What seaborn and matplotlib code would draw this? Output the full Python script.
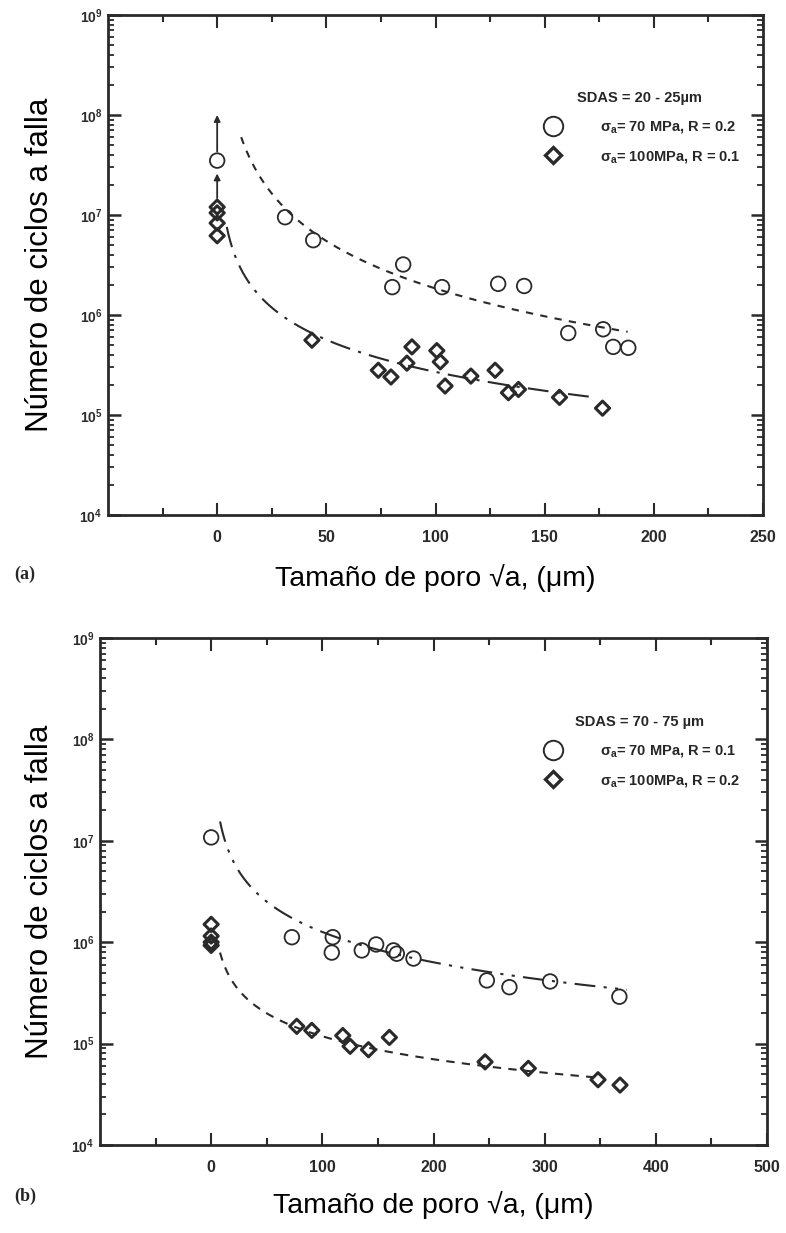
import numpy as np
import pandas as pd
import matplotlib
matplotlib.use("Agg")
import matplotlib.pyplot as plt
import seaborn as sns
from matplotlib.ticker import FixedLocator, LogLocator, FuncFormatter, NullFormatter
from matplotlib.lines import Line2D

# ---------------- data ----------------
# panel (a)  SDAS = 20 - 25 um
a_circ_x = [0, 31.1, 44.0, 80.2, 85.2, 103.0, 128.7, 140.6, 160.8, 176.8, 181.4, 188.3]
a_circ_N = [3.5e7, 9.5e6, 5.6e6, 1.9e6, 3.2e6, 1.9e6, 2.05e6, 1.95e6, 6.6e5, 7.2e5, 4.8e5, 4.7e5]
a_diam_x = [0, 0, 0, 0, 43.4, 73.8, 79.6, 86.9, 89.2, 100.6, 102.2, 104.4, 116.2, 127.3,
            133.4, 138.0, 156.8, 176.5]
a_diam_N = [1.2e7, 1.05e7, 8.3e6, 6.2e6, 5.6e5, 2.8e5, 2.4e5, 3.3e5, 4.8e5, 4.4e5, 3.4e5,
            1.95e5, 2.45e5, 2.8e5, 1.67e5, 1.8e5, 1.5e5, 1.17e5]
# fitted power-law curves: (x_start, N_start) -> (x_end, N_end)
a_fit_circ_x = [11, 188]
a_fit_circ_N = [6.0e7, 6.8e5]
a_fit_diam_x = [4.4, 173]
a_fit_diam_N = [7.6e6, 1.5e5]
# run-out arrows (x, from N, to N)
a_arrow_x = [0, 0]
a_arrow_from = [3.5e7, 1.2e7]
a_arrow_to = [1.0e8, 2.6e7]

# panel (b)  SDAS = 70 - 75 um
b_circ_x = [0, 72.6, 109.4, 108.5, 135.5, 148.4, 164.0, 167.0, 182.0, 248.0, 268.3, 304.9, 367.2]
b_circ_N = [1.08e7, 1.12e6, 1.12e6, 7.9e5, 8.3e5, 9.5e5, 8.3e5, 7.7e5, 6.9e5, 4.2e5, 3.6e5, 4.1e5, 2.9e5]
b_diam_x = [0, 0, 0, 0, 77.0, 90.5, 118.4, 125.0, 141.5, 160.3, 246.4, 285.3, 348.0, 367.8]
b_diam_N = [1.5e6, 1.15e6, 1.0e6, 9.3e5, 1.48e5, 1.35e5, 1.2e5, 9.4e4, 8.7e4, 1.15e5,
            6.6e4, 5.7e4, 4.4e4, 3.9e4]
b_fit_circ_x = [8, 374]
b_fit_circ_N = [1.55e7, 3.4e5]
b_fit_diam_x = [8, 350]
b_fit_diam_N = [7.9e5, 4.6e4]

a_xticks = [0, 50, 100, 150, 200, 250]
a_xminor = [-25, 25, 75, 125, 175, 225]
b_xticks = [0, 100, 200, 300, 400, 500]
b_xminor = [-50, 50, 150, 250, 350, 450]
y_decades = [4, 5, 6, 7, 8, 9]

a_title = "SDAS = 20 - 25µm"
a_labels = [r"σ$_\mathbf{a}$= 70 MPa, R = 0.2", r"σ$_\mathbf{a}$= 100MPa, R = 0.1"]
b_title = "SDAS = 70 - 75 µm"
b_labels = [r"σ$_\mathbf{a}$= 70 MPa, R = 0.1", r"σ$_\mathbf{a}$= 100MPa, R = 0.2"]

xlabel = "Tamaño de poro √a, (μm)"
ylabel = "Número de ciclos a falla"

# ---------------- style ----------------
sns.set_theme(style="ticks")
plt.rcParams['font.family'] = ['Liberation Sans Narrow', 'Liberation Sans', 'DejaVu Sans']
plt.rcParams['mathtext.fontset'] = 'custom'
plt.rcParams['mathtext.rm'] = 'Liberation Sans'
plt.rcParams['mathtext.bf'] = 'Liberation Sans:bold'
plt.rcParams['mathtext.it'] = 'Liberation Sans:italic'
C = '#2a2a2a'

fig = plt.figure(figsize=(7.86, 12.33), dpi=100)
fig.patch.set_facecolor('white')
ax1 = fig.add_axes([108 / 786, 1 - 515 / 1233, 655 / 786, 500 / 1233])
ax2 = fig.add_axes([100 / 786, 1 - 1145 / 1233, 667 / 786, 507 / 1233])


def power_curve(xr, Nr):
    xs = np.geomspace(xr[0], xr[1], 200)
    b = np.log10(Nr[1] / Nr[0]) / np.log10(xr[1] / xr[0])
    return xs, Nr[0] * (xs / xr[0]) ** b


def decorate(ax, xlim, xt, xm, title, labels, leg_anchor, ylab_x, xlab_y):
    ax.set_yscale('log')
    ax.set_ylim(1e4, 1e9)
    ax.set_xlim(*xlim)
    ax.xaxis.set_major_locator(FixedLocator(xt))
    ax.xaxis.set_minor_locator(FixedLocator(xm))
    ax.yaxis.set_major_locator(FixedLocator([10.0 ** d for d in y_decades]))
    ax.yaxis.set_minor_locator(LogLocator(base=10, subs=np.arange(2, 10)))
    ax.yaxis.set_minor_formatter(NullFormatter())
    ax.yaxis.set_major_formatter(FuncFormatter(
        lambda v, p: r"$\mathbf{10^{%d}}$" % int(round(np.log10(v)))))
    ax.tick_params(which='both', direction='in', top=True, right=True, color=C)
    ax.tick_params(axis='x', which='major', length=9, width=1.5, pad=11,
                   labelsize=11.5, labelcolor=C)
    ax.tick_params(axis='x', which='minor', length=5, width=1.5)
    ax.tick_params(axis='y', which='major', length=9, width=1.8, pad=4,
                   labelsize=10, labelcolor=C)
    ax.tick_params(axis='y', which='minor', length=4.5, width=1.3)
    for lab in ax.get_xticklabels():
        lab.set_fontweight('bold')
    for s in ax.spines.values():
        s.set_linewidth(2.0)
        s.set_color(C)
    ax.set_xlabel(xlabel, fontsize=20.5, color='black', va='center')
    ax.xaxis.set_label_coords(0.5, xlab_y)
    ax.set_ylabel(ylabel, fontsize=22.5, color='black', va='center')
    ax.yaxis.set_label_coords(ylab_x, 0.5)
    handles = [Line2D([], [], marker='o', ls='none', mfc='none', mec=C, ms=14, mew=1.4),
               Line2D([], [], marker='D', ls='none', mfc='none', mec=C, ms=8.5, mew=2.4)]
    ax.legend(handles, labels, title=title, loc='upper left', bbox_to_anchor=leg_anchor,
              frameon=False, borderpad=0, handlelength=2.0, handletextpad=2.2,
              labelspacing=0.95, prop={'weight': 'bold', 'size': 10.5},
              title_fontproperties={'weight': 'bold', 'size': 10.5})


def draw(ax, cx, cN, dx, dN, fcx, fcN, fdx, fdN, ls_c, ls_d):
    xs, ys = power_curve(fcx, fcN)
    sns.lineplot(x=xs, y=ys, ax=ax, color=C, lw=1.5, linestyle=ls_c, sort=False,
                 estimator=None, legend=False)
    xs, ys = power_curve(fdx, fdN)
    sns.lineplot(x=xs, y=ys, ax=ax, color=C, lw=1.5, linestyle=ls_d, sort=False,
                 estimator=None, legend=False)
    sns.scatterplot(data=pd.DataFrame({'x': cx, 'N': cN}), x='x', y='N', ax=ax,
                    marker='o', s=110, facecolor='none', edgecolor=C, linewidth=1.3,
                    zorder=3, legend=False)
    sns.scatterplot(data=pd.DataFrame({'x': dx, 'N': dN}), x='x', y='N', ax=ax,
                    marker='D', s=52, facecolor='none', edgecolor=C, linewidth=2.2,
                    zorder=3, legend=False)


draw(ax1, a_circ_x, a_circ_N, a_diam_x, a_diam_N, a_fit_circ_x, a_fit_circ_N,
     a_fit_diam_x, a_fit_diam_N, (0, (3.5, 3.5)), (0, (10, 4, 1.5, 4)))
for x, n0, n1 in zip(a_arrow_x, a_arrow_from, a_arrow_to):
    ax1.annotate('', xy=(x, n1), xytext=(x, n0),
                 arrowprops=dict(arrowstyle='-|>', color=C, lw=1.3, shrinkA=6.5,
                                 shrinkB=0, mutation_scale=9))
draw(ax2, b_circ_x, b_circ_N, b_diam_x, b_diam_N, b_fit_circ_x, b_fit_circ_N,
     b_fit_diam_x, b_fit_diam_N, (0, (10, 4, 1.5, 4, 1.5, 4)), (0, (4, 3.5)))

decorate(ax1, (-50, 250), a_xticks, a_xminor, a_title, a_labels, (0.646, 0.862),
         -0.104, -0.126)
decorate(ax2, (-100, 500), b_xticks, b_xminor, b_title, b_labels, (0.647, 0.862),
         -0.09, -0.118)

fig.text(25 / 786, 1 - 574 / 1233, "(a)", family=['Liberation Serif', 'DejaVu Serif'],
         weight='bold', fontsize=13, ha='center', va='center')
fig.text(25 / 786, 1 - 1196 / 1233, "(b)", family=['Liberation Serif', 'DejaVu Serif'],
         weight='bold', fontsize=13, ha='center', va='center')

fig.savefig("out.png", dpi=100, facecolor='white')
